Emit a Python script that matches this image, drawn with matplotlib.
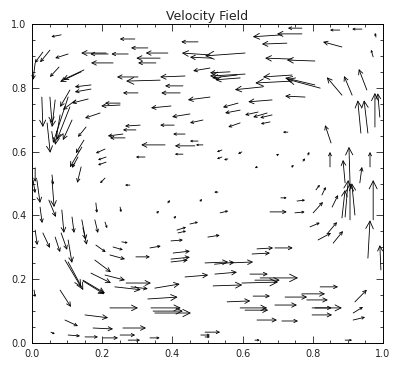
import numpy as np
import matplotlib
matplotlib.use("Agg")
import matplotlib.pyplot as plt
from matplotlib.ticker import MultipleLocator

# Arrow tails (x, y) and components (u, v) in data units
x = [0.083, 0.293, 0.330, 0.211, 0.217, 0.274, 0.387, 0.365, 0.353, 0.231,
     0.473, 0.507, 0.513, 0.031, 0.051, 0.009, 0.077, 0.103, 0.140, 0.148,
     0.168, 0.168, 0.160, 0.302, 0.365, 0.436, 0.422, 0.302, 0.507, 0.251,
     0.507, 0.769, 0.877, 0.712, 0.769, 0.726, 0.883, 0.980, 0.607, 0.741,
     0.806, 0.972, 0.607, 0.584, 0.593, 0.564, 0.658, 0.741, 0.741, 0.821,
     0.806, 0.883, 0.912, 0.954, 0.684, 0.778, 0.028, 0.051, 0.043, 0.108,
     0.108, 0.114, 0.103, 0.066, 0.080, 0.125, 0.194, 0.251, 0.396, 0.450,
     0.487, 0.308, 0.296, 0.405, 0.259, 0.265, 0.436, 0.473, 0.379, 0.464,
     0.487, 0.430, 0.322, 0.208, 0.211, 0.211, 0.148, 0.131, 0.140, 0.208,
     0.009, 0.057, 0.587, 0.593, 0.644, 0.670, 0.684, 0.593, 0.678, 0.729,
     0.852, 0.541, 0.541, 0.598, 0.558, 0.641, 0.698, 0.740, 0.772, 0.786,
     0.849, 0.937, 0.957, 0.977, 0.991, 0.906, 0.892, 0.934, 0.963, 0.892,
     0.906, 0.883, 0.920, 0.972, 0.957, 0.994, 0.809, 0.826, 0.855, 0.801,
     0.792, 0.815, 0.843, 0.858, 0.709, 0.755, 0.678, 0.749, 0.530, 0.536,
     0.501, 0.641, 0.692, 0.627, 0.493, 0.564, 0.003, 0.014, 0.057, 0.048,
     0.023, 0.085, 0.114, 0.142, 0.179, 0.208, 0.009, 0.031, 0.066, 0.083,
     0.103, 0.145, 0.182, 0.256, 0.182, 0.231, 0.222, 0.296, 0.336, 0.396,
     0.402, 0.396, 0.413, 0.416, 0.450, 0.251, 0.279, 0.356, 0.387, 0.405,
     0.479, 0.094, 0.103, 0.179, 0.168, 0.208, 0.145, 0.080, 0.236, 0.268,
     0.282, 0.350, 0.436, 0.396, 0.330, 0.339, 0.345, 0.350, 0.222, 0.151,
     0.094, 0.174, 0.259, 0.054, 0.103, 0.151, 0.202, 0.251, 0.274, 0.336,
     0.481, 0.006, 0.521, 0.621, 0.635, 0.650, 0.516, 0.598, 0.821, 0.556,
     0.630, 0.593, 0.607, 0.692, 0.721, 0.769, 0.783, 0.798, 0.798, 0.806,
     0.641, 0.712, 0.920, 0.915, 0.915, 0.493, 0.493, 0.635, 0.892, 0.940,
     0.430, 0.154, 0.142, 0.146, 0.520]
y = [0.966, 0.953, 0.925, 0.909, 0.906, 0.906, 0.909, 0.893, 0.878, 0.878,
     0.944, 0.903, 0.893, 0.912, 0.918, 0.878, 0.865, 0.906, 0.850, 0.856,
     0.809, 0.796, 0.765, 0.834, 0.824, 0.837, 0.784, 0.784, 0.771, 0.752,
     0.862, 0.987, 0.981, 0.966, 0.969, 0.940, 0.928, 0.959, 0.909, 0.890,
     0.884, 0.897, 0.843, 0.840, 0.831, 0.850, 0.803, 0.821, 0.840, 0.799,
     0.809, 0.777, 0.777, 0.793, 0.762, 0.771, 0.771, 0.771, 0.690, 0.793,
     0.740, 0.699, 0.771, 0.762, 0.715, 0.762, 0.721, 0.746, 0.743, 0.718,
     0.699, 0.683, 0.668, 0.683, 0.655, 0.643, 0.655, 0.633, 0.621, 0.618,
     0.621, 0.592, 0.583, 0.608, 0.583, 0.567, 0.636, 0.583, 0.552, 0.517,
     0.549, 0.527, 0.752, 0.730, 0.724, 0.721, 0.715, 0.690, 0.693, 0.661,
     0.627, 0.605, 0.583, 0.599, 0.577, 0.552, 0.589, 0.552, 0.570, 0.589,
     0.552, 0.658, 0.658, 0.677, 0.708, 0.502, 0.502, 0.502, 0.552, 0.395,
     0.386, 0.392, 0.401, 0.386, 0.266, 0.229, 0.480, 0.464, 0.426, 0.408,
     0.364, 0.323, 0.345, 0.313, 0.455, 0.445, 0.411, 0.408, 0.473, 0.408,
     0.332, 0.295, 0.298, 0.279, 0.251, 0.251, 0.511, 0.511, 0.511, 0.448,
     0.426, 0.417, 0.395, 0.386, 0.386, 0.379, 0.354, 0.345, 0.332, 0.345,
     0.323, 0.361, 0.439, 0.317, 0.307, 0.301, 0.276, 0.270, 0.298, 0.320,
     0.282, 0.263, 0.354, 0.345, 0.373, 0.426, 0.495, 0.408, 0.439, 0.392,
     0.445, 0.260, 0.254, 0.260, 0.219, 0.213, 0.197, 0.166, 0.176, 0.188,
     0.176, 0.172, 0.207, 0.254, 0.138, 0.110, 0.100, 0.094, 0.110, 0.088,
     0.072, 0.047, 0.047, 0.034, 0.025, 0.019, 0.016, 0.025, 0.009, 0.016,
     0.025, 0.166, 0.216, 0.216, 0.197, 0.204, 0.179, 0.188, 0.176, 0.129,
     0.147, 0.110, 0.103, 0.119, 0.144, 0.154, 0.135, 0.110, 0.088, 0.110,
     0.072, 0.069, 0.129, 0.094, 0.072, 0.034, 0.019, 0.009, 0.009, 0.984,
     0.806, 0.677, 0.614, 0.194, 0.247]
u = [-0.028, -0.043, -0.048, -0.071, -0.051, -0.048, -0.063, -0.068, -0.051, -0.063,
     -0.048, -0.080, -0.063, -0.023, -0.028, -0.006, -0.026, -0.037, -0.060, -0.060,
     -0.046, -0.046, -0.046, -0.060, -0.097, -0.071, -0.054, -0.043, -0.063, -0.043,
     -0.048, -0.040, -0.028, -0.083, -0.071, -0.071, -0.054, -0.003, -0.114, -0.077,
     -0.080, -0.006, -0.100, -0.071, -0.071, -0.057, -0.080, -0.105, -0.083, -0.094,
     -0.085, -0.043, -0.023, -0.023, -0.068, -0.057, 0.003, 0.006, 0.009, -0.028,
     -0.037, -0.026, -0.043, -0.009, -0.014, -0.037, -0.043, -0.054, -0.057, -0.051,
     -0.037, -0.043, -0.037, -0.040, -0.043, -0.043, -0.034, -0.023, -0.068, -0.057,
     -0.020, -0.023, -0.026, -0.026, -0.023, -0.023, -0.023, -0.017, -0.011, -0.014,
     0.000, 0.003, -0.043, -0.043, -0.037, -0.040, -0.034, -0.034, -0.026, -0.014,
     -0.017, -0.014, -0.014, -0.011, -0.011, -0.006, 0.006, 0.006, 0.006, 0.004,
     0.000, -0.009, -0.011, 0.000, -0.006, -0.003, -0.006, 0.006, 0.000, 0.009,
     0.000, 0.009, -0.009, 0.000, 0.006, -0.003, 0.011, 0.011, 0.017, 0.028,
     0.028, 0.037, 0.026, 0.028, 0.017, 0.023, 0.048, 0.028, -0.011, 0.023,
     0.034, 0.046, 0.051, 0.051, 0.066, 0.066, 0.006, 0.009, 0.006, 0.020,
     0.006, 0.006, 0.006, 0.011, 0.009, 0.006, 0.006, 0.020, 0.014, 0.017,
     0.011, 0.011, 0.003, 0.017, 0.028, 0.028, 0.043, 0.040, 0.031, 0.034,
     0.048, 0.054, 0.026, 0.023, 0.023, 0.003, -0.014, 0.006, 0.006, 0.006,
     0.006, 0.046, 0.043, 0.046, 0.057, 0.057, 0.063, 0.031, 0.074, 0.071,
     0.048, 0.071, 0.066, 0.048, 0.085, 0.085, 0.085, 0.103, 0.080, 0.066,
     0.037, 0.057, 0.066, 0.011, 0.034, 0.037, 0.043, 0.043, 0.034, 0.028,
     0.026, 0.003, 0.063, 0.051, 0.071, 0.108, 0.083, 0.103, 0.051, 0.066,
     0.048, 0.077, 0.066, 0.063, 0.063, 0.066, 0.060, 0.085, 0.057, 0.048,
     0.057, 0.046, 0.034, 0.028, 0.034, 0.043, 0.014, 0.014, 0.020, -0.028,
     -0.051, -0.023, -0.034, 0.060, 0.057]
v = [-0.006, 0.000, 0.000, 0.000, 0.000, 0.000, 0.000, 0.000, 0.000, 0.000,
     0.000, 0.006, 0.003, -0.034, -0.038, -0.053, -0.031, -0.013, -0.031, -0.031,
     -0.006, -0.009, -0.013, 0.000, -0.003, -0.003, 0.000, 0.000, -0.009, 0.000,
     -0.009, 0.000, 0.000, -0.006, 0.000, -0.003, 0.016, 0.013, -0.009, 0.003,
     0.003, 0.022, -0.006, -0.009, -0.006, -0.003, -0.009, -0.006, -0.006, 0.028,
     0.022, 0.056, 0.060, 0.066, -0.006, 0.003, -0.094, -0.082, -0.094, -0.053,
     -0.103, -0.063, -0.144, -0.085, -0.094, -0.031, -0.016, -0.003, -0.006, -0.009,
     -0.009, -0.003, 0.000, 0.000, -0.006, 0.000, 0.000, 0.000, 0.000, 0.000,
     0.000, 0.000, 0.000, -0.013, -0.009, -0.009, -0.041, -0.034, -0.050, -0.016,
     -0.044, -0.031, -0.013, -0.009, -0.009, -0.013, -0.009, -0.013, -0.006, 0.000,
     0.056, -0.006, -0.006, -0.006, -0.003, -0.004, 0.004, 0.006, 0.009, 0.010,
     0.047, 0.103, 0.103, 0.107, 0.075, 0.113, 0.072, 0.050, 0.047, 0.116,
     0.116, 0.088, 0.100, 0.125, 0.119, 0.078, 0.016, 0.025, 0.038, 0.034,
     0.013, 0.022, 0.034, 0.038, 0.000, 0.003, 0.000, 0.003, 0.000, 0.006,
     0.006, 0.003, 0.000, 0.003, 0.003, 0.003, -0.041, -0.072, -0.085, -0.053,
     -0.050, -0.072, -0.050, -0.063, -0.041, -0.019, -0.047, -0.047, -0.047, -0.053,
     -0.072, -0.053, -0.031, -0.003, -0.022, -0.009, -0.013, 0.000, 0.006, 0.003,
     0.006, 0.006, 0.009, 0.006, 0.006, -0.016, 0.000, 0.006, 0.009, 0.006,
     0.006, -0.085, -0.088, -0.038, -0.031, -0.016, -0.041, -0.053, -0.009, 0.000,
     -0.006, 0.013, 0.006, 0.006, 0.006, 0.000, 0.000, 0.000, 0.000, -0.009,
     -0.019, -0.003, 0.000, -0.006, -0.003, 0.000, 0.000, 0.000, 0.000, 0.000,
     0.000, -0.022, 0.006, 0.000, 0.000, 0.000, 0.003, 0.003, 0.000, 0.003,
     0.000, 0.000, 0.000, 0.000, 0.000, 0.000, 0.000, 0.000, 0.000, 0.000,
     0.000, 0.000, 0.038, 0.019, 0.009, 0.000, 0.000, 0.000, 0.000, 0.000,
     0.000, -0.031, -0.063, -0.041, 0.006]

title = "Velocity Field"
xticks = [0.0, 0.2, 0.4, 0.6, 0.8, 1.0]
yticks = [0.0, 0.2, 0.4, 0.6, 0.8, 1.0]

W, H, DPI = 395, 370, 100
fig = plt.figure(figsize=(W / DPI, H / DPI), dpi=DPI)
ax = fig.add_axes([32 / W, 1 - 343 / H, 351 / W, 319 / H])
ax.set_xlim(0, 1)
ax.set_ylim(0, 1)

n = min(len(x), len(y), len(u), len(v))
pt_per_px = 72.0 / DPI
for i in range(n):
    Lpx = np.hypot(u[i] * 351, v[i] * 319)
    hl = max(1.5, 0.2 * Lpx) * pt_per_px / 10.0
    hw = hl * 0.5
    ax.annotate('', xy=(x[i] + u[i], y[i] + v[i]), xytext=(x[i], y[i]),
                arrowprops=dict(arrowstyle=f'->,head_length={hl:.3f},head_width={hw:.3f}',
                                lw=0.6, color='black', shrinkA=0, shrinkB=0),
                annotation_clip=False)

ax.set_xticks(xticks)
ax.set_yticks(yticks)
ax.set_xticklabels([f"{t:.1f}" for t in xticks])
ax.set_yticklabels([f"{t:.1f}" for t in yticks])
ax.xaxis.set_minor_locator(MultipleLocator(0.05))
ax.yaxis.set_minor_locator(MultipleLocator(0.05))
ax.tick_params(which='both', direction='in', top=True, right=True,
               labelsize=7, width=0.6, colors='#222222', pad=4)
ax.tick_params(which='major', length=5)
ax.tick_params(which='minor', length=2.5)
for s in ax.spines.values():
    s.set_linewidth(0.7)
ax.set_title(title, fontsize=9, pad=3, color='#222222')

fig.savefig("out.png", dpi=DPI)
